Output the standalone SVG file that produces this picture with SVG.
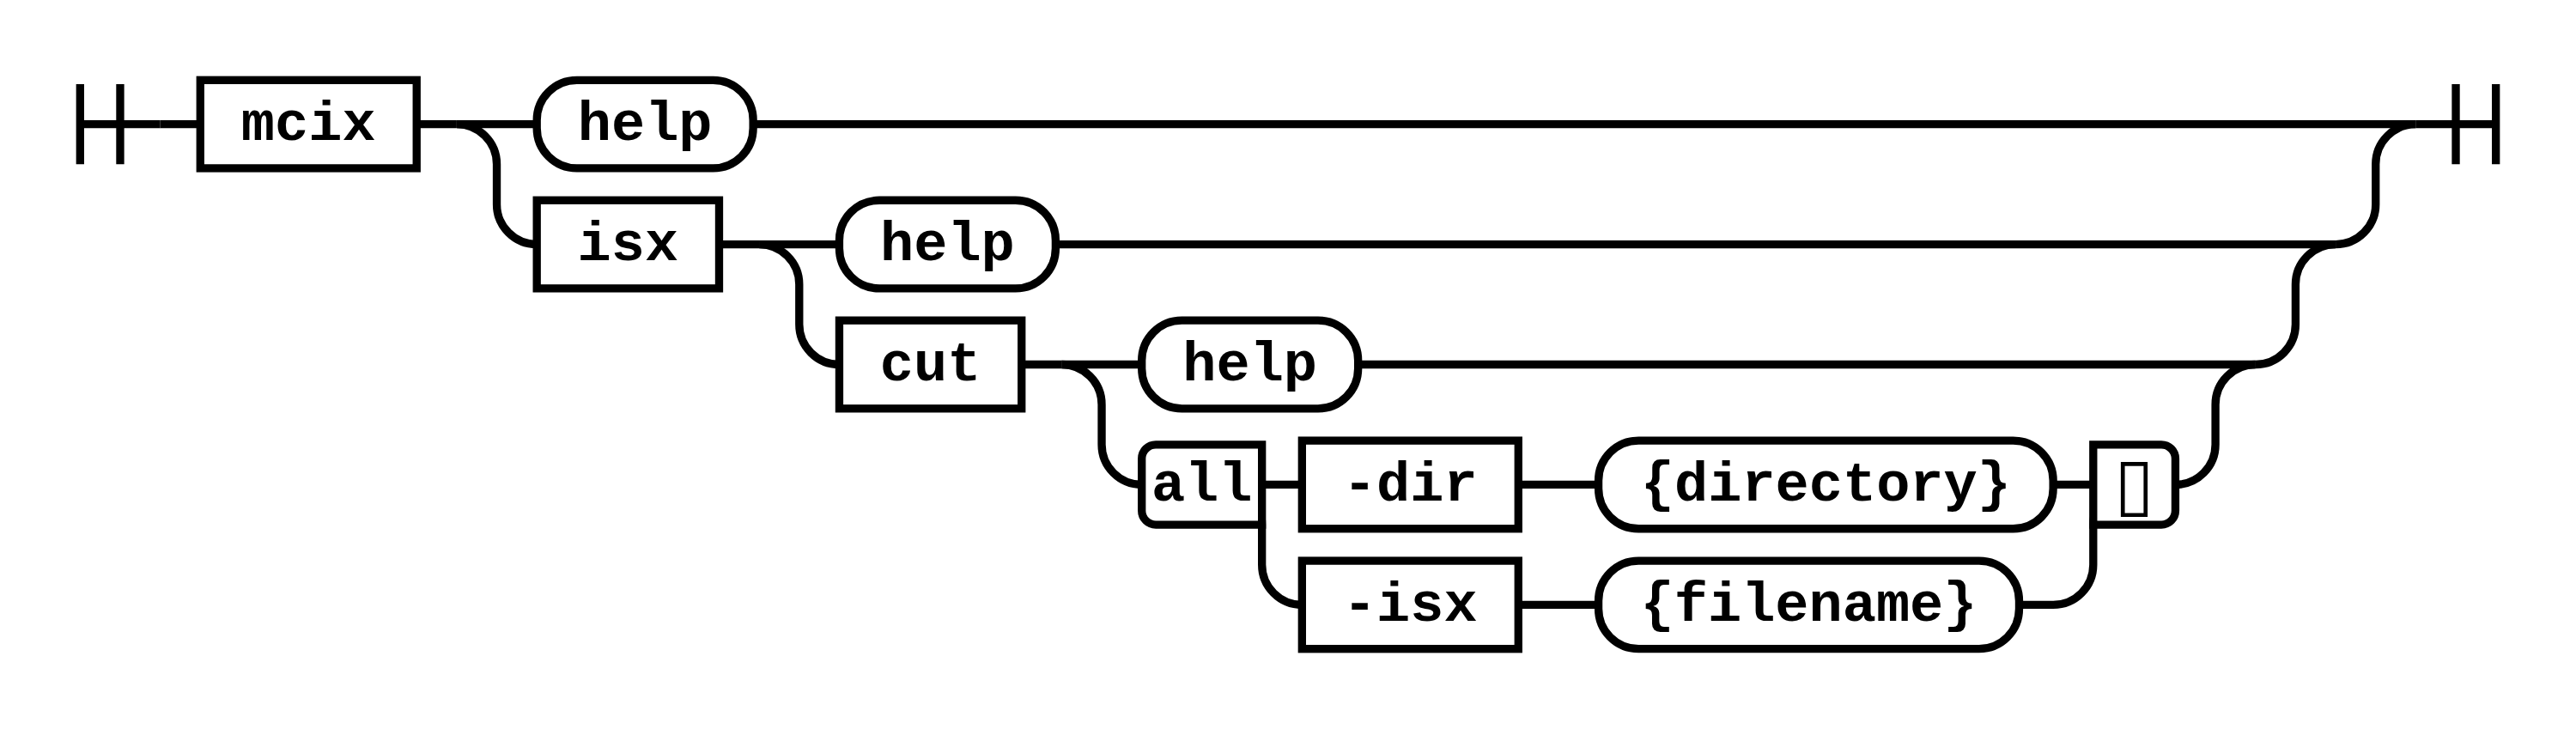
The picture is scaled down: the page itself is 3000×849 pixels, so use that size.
<svg xmlns="http://www.w3.org/2000/svg" width="3000" height="849" viewBox="0 0 3000 849">
<style>
  .c path { stroke: #000; stroke-width: 2; fill: none; }
  .n rect, .n path { stroke: #000; stroke-width: 2; fill: #fff; }
  .n text { font-family: "Liberation Mono", "Courier New", "DejaVu Sans Mono", monospace; font-weight: bold; font-size: 14px; text-anchor: middle; fill: #000; }
  .n text.g { font-family: "DejaVu Sans", "DejaVu Sans Mono", sans-serif; font-weight: normal; font-size: 18px; }
</style>
<rect x="0" y="0" width="3000" height="849" fill="#fff"/>
<g transform="scale(4.66563 4.66484)">
  <g id="connectors" class="c">
    <path id="start" d="M20 21 v20 M30 21 v20 M20 31 h20"/>
    <path d="M40 31 h10"/>
    <path d="M104 31 h10"/>
    <path d="M114 31 h20 M188 31 H603"/>
    <path d="M114 31 a10 10 0 0 1 10 10 v10 a10 10 0 0 0 10 10"/>
    <path d="M583 61 a10 10 0 0 0 10 -10 v-10 a10 10 0 0 1 10 -10"/>
    <path d="M179.5 61 h10"/>
    <path d="M189.5 61 h20 M263.5 61 H583"/>
    <path d="M189.5 61 a10 10 0 0 1 10 10 v10 a10 10 0 0 0 10 10"/>
    <path d="M563 91 a10 10 0 0 0 10 -10 v-10 a10 10 0 0 1 10 -10"/>
    <path d="M255 91 h10"/>
    <path d="M265 91 h20 M339 91 H563"/>
    <path d="M265 91 a10 10 0 0 1 10 10 v10 a10 10 0 0 0 10 10"/>
    <path d="M543 121 a10 10 0 0 0 10 -10 v-10 a10 10 0 0 1 10 -10"/>
    <path d="M305 121 h20"/>
    <path d="M305 121 a10 10 0 0 1 10 10 v10 a10 10 0 0 0 10 10"/>
    <path d="M379 121 h20 M512.5 121 h20"/>
    <path d="M379 151 h20 M504 151 h8.5 a10 10 0 0 0 10 -10 v-10 a10 10 0 0 1 10 -10"/>
    <path id="end" d="M603 31 h20 M613 21 v20 M623 21 v20"/>
  </g>
  <g id="node-mcix" class="n"><rect x="50" y="20" width="54" height="22"/><text x="77" y="35">mcix</text></g>
  <g id="node-help1" class="n"><rect x="134" y="20" width="54" height="22" rx="10" ry="10"/><text x="161" y="35">help</text></g>
  <g id="node-isx" class="n"><rect x="134" y="50" width="45.5" height="22"/><text x="156.75" y="65">isx</text></g>
  <g id="node-help2" class="n"><rect x="209.5" y="50" width="54" height="22" rx="10" ry="10"/><text x="236.5" y="65">help</text></g>
  <g id="node-cut" class="n"><rect x="209.5" y="80" width="45.5" height="22"/><text x="232.25" y="95">cut</text></g>
  <g id="node-help3" class="n"><rect x="285" y="80" width="54" height="22" rx="10" ry="10"/><text x="312" y="95">help</text></g>
  <g id="node-all" class="n"><path d="M315 111 H288.5 A3.5 3.5 0 0 0 285 114.5 V127.5 A3.5 3.5 0 0 0 288.5 131 H315 Z"/><text x="300" y="125">all</text></g>
  <g id="node-dir" class="n"><rect x="325" y="110" width="54" height="22"/><text x="352" y="125">-dir</text></g>
  <g id="node-directory" class="n"><rect x="399" y="110" width="113.5" height="22" rx="10" ry="10"/><text x="455.75" y="125">{directory}</text></g>
  <g id="node-isx2" class="n"><rect x="325" y="140" width="54" height="22"/><text x="352" y="155">-isx</text></g>
  <g id="node-filename" class="n"><rect x="399" y="140" width="105" height="22" rx="10" ry="10"/><text x="451.5" y="155">{filename}</text></g>
  <g id="node-end-term" class="n"><path d="M522.5 111 H539.5 A3.5 3.5 0 0 1 543 114.5 V127.5 A3.5 3.5 0 0 1 539.5 131 H522.5 Z"/><text class="g" x="532.75" y="127">&#x25AF;</text></g>
</g>
</svg>
